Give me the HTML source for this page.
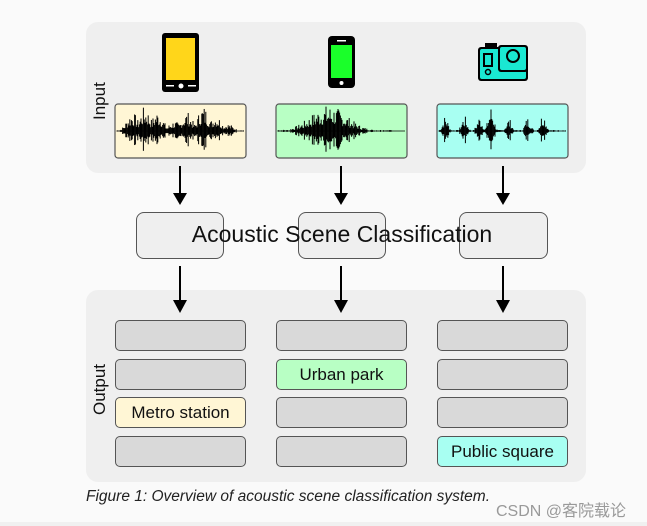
<!DOCTYPE html>
<html><head><meta charset="utf-8"><style>
html,body{margin:0;padding:0;width:647px;height:526px;overflow:hidden;background:#fafafa;font-family:"Liberation Sans",sans-serif}
.a{position:absolute}
.panel{background:#efefef;border-radius:12px}
.ob{background:#d9d9d9;border:1.3px solid #555;border-radius:5px;box-sizing:border-box;height:31px;width:131px;font-size:17px;text-align:center;line-height:29px;color:#111}
.cb{background:#efefef;border:1.3px solid #555;border-radius:8px;box-sizing:border-box;height:47px;top:212px}
</style></head><body>
<div class="a panel" style="left:86px;top:22px;width:500px;height:151px"></div>
<div class="a panel" style="left:86px;top:290px;width:500px;height:192px"></div>
<div class="a" style="left:90px;top:120px;transform:rotate(-90deg);transform-origin:left top;font-size:17px;color:#111">Input</div>
<div class="a" style="left:90px;top:415px;transform:rotate(-90deg);transform-origin:left top;font-size:17px;color:#111">Output</div>

<svg class="a" style="left:0;top:0" width="647" height="526">
<rect x="162" y="33" width="37" height="59" rx="3" fill="#000"/>
<rect x="166" y="38" width="29" height="42" fill="#ffd61a"/>
<circle cx="181" cy="86" r="2.5" fill="#fff"/>
<rect x="166" y="85" width="8" height="1.5" fill="#fff"/><rect x="188" y="85" width="8" height="1.5" fill="#fff"/>
<rect x="328" y="36" width="27" height="52" rx="4" fill="#000"/>
<rect x="331" y="45" width="21" height="33" fill="#1aff2a"/>
<circle cx="341.5" cy="83" r="2" fill="#fff"/>
<rect x="337" y="40" width="9" height="1.5" fill="#fff"/>
<rect x="485" y="43" width="12" height="6" fill="#000"/>
<rect x="478" y="47" width="50" height="34" rx="3" fill="#000"/>
<rect x="480" y="49" width="46" height="30" rx="2" fill="#1ae8d2"/>
<rect x="498" y="45" width="30" height="27" rx="3" fill="#000"/>
<rect x="500" y="47" width="26" height="23" rx="2" fill="#1ae8d2"/>
<circle cx="513" cy="56" r="6" fill="#1ae8d2" stroke="#000" stroke-width="2"/>
<rect x="484" y="54" width="8" height="12" fill="none" stroke="#000" stroke-width="2"/>
<circle cx="488" cy="72" r="2.5" fill="none" stroke="#000" stroke-width="1.5"/>
<rect x="115" y="104" width="131" height="54" rx="3" fill="#fff6d5" stroke="#555" stroke-width="1.2"/>
<rect x="276" y="104" width="131" height="54" rx="3" fill="#b8ffc4" stroke="#555" stroke-width="1.2"/>
<rect x="437" y="104" width="131" height="54" rx="3" fill="#a8fff2" stroke="#555" stroke-width="1.2"/>
<g id="w1" stroke="#000" stroke-width="1"></g>
<g id="w2" stroke="#000" stroke-width="1"></g>
<g id="w3" stroke="#000" stroke-width="1"></g>
<line x1="117" y1="131" x2="244" y2="131" stroke="#000" stroke-width="0.7"/>
<line x1="278" y1="131" x2="405" y2="131" stroke="#000" stroke-width="0.7"/>
<line x1="439" y1="131" x2="566" y2="131" stroke="#000" stroke-width="0.7"/>
<g stroke="#000" stroke-width="2">
<line x1="180" y1="166" x2="180" y2="196"/><line x1="341" y1="166" x2="341" y2="196"/><line x1="503" y1="166" x2="503" y2="196"/>
<line x1="180" y1="266" x2="180" y2="302"/><line x1="341" y1="266" x2="341" y2="302"/><line x1="503" y1="266" x2="503" y2="302"/>
</g>
<g fill="#000">
<polygon points="173,193 187,193 180,205"/><polygon points="334,193 348,193 341,205"/><polygon points="496,193 510,193 503,205"/>
<polygon points="173,300 187,300 180,313"/><polygon points="334,300 348,300 341,313"/><polygon points="496,300 510,300 503,313"/>
</g>
</svg>
<div class="a cb" style="left:136px;width:88px"></div>
<div class="a cb" style="left:298px;width:88px"></div>
<div class="a cb" style="left:459px;width:89px"></div>
<div class="a" style="left:142px;top:221px;width:400px;text-align:center;font-size:23px;color:#111">Acoustic Scene Classification</div>

<div class="a ob" style="left:115px;top:320px"></div>
<div class="a ob" style="left:115px;top:359px"></div>
<div class="a ob" style="left:115px;top:397px;background:#fff6d5">Metro station</div>
<div class="a ob" style="left:115px;top:436px"></div>
<div class="a ob" style="left:276px;top:320px"></div>
<div class="a ob" style="left:276px;top:359px;background:#b8ffc4">Urban park</div>
<div class="a ob" style="left:276px;top:397px"></div>
<div class="a ob" style="left:276px;top:436px"></div>
<div class="a ob" style="left:437px;top:320px"></div>
<div class="a ob" style="left:437px;top:359px"></div>
<div class="a ob" style="left:437px;top:397px"></div>
<div class="a ob" style="left:437px;top:436px;background:#a8fff2">Public square</div>

<div class="a" style="left:86px;top:488px;font-size:15.5px;font-style:italic;color:#222">Figure 1: Overview of acoustic scene classification system.</div>
<div class="a" style="left:496px;top:497px;font-size:16px;color:#999;font-family:'Liberation Sans','Noto Sans CJK SC',sans-serif">CSDN @客院载论</div>
<div class="a" style="left:0;top:522px;width:647px;height:4px;background:#f0f0f0"></div>
<script>
function gen(id,x0,env){var g=document.getElementById(id),s='';var seed=7;function r(){seed=(seed*9301+49297)%233280;return seed/233280;}
for(var i=0;i<127;i+=0.8){var a=env(i/127)*(0.25+0.75*Math.pow(r(),1.5))*26;if(a<0.5)continue;s+='<line x1="'+(x0+i)+'" y1="'+(131-a)+'" x2="'+(x0+i)+'" y2="'+(131+a*0.85)+'"/>';}
g.innerHTML=s;}
function bumps(c,w){return function(t){var v=0.04;for(var k=0;k<c.length;k++){var d=(t-c[k][0])/w;v=Math.max(v,c[k][1]*Math.exp(-d*d));}return v;}}
gen('w1',117,bumps([[0.12,0.75],[0.22,0.95],[0.32,0.8],[0.45,0.4],[0.55,0.75],[0.68,1.0],[0.78,0.65],[0.87,0.3]],0.06));
gen('w2',278,function(t){if(t<0.1)return 0.05;return Math.max(0.05,Math.exp(-Math.pow((t-0.4)/0.2,2)))*(t<0.9?1:0.1);});
gen('w3',439,bumps([[0.05,0.6],[0.2,0.6],[0.32,0.6],[0.41,1.0],[0.55,0.5],[0.7,0.55],[0.82,0.75]],0.03));
</script>
</body></html>
